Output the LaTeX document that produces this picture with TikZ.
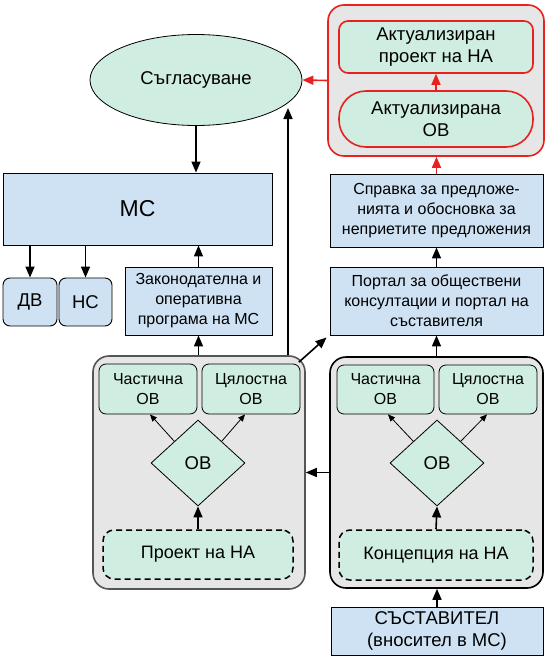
\documentclass[tikz,border=0pt]{standalone}
\usepackage{fontspec}
\setmainfont{Liberation Sans}
\usetikzlibrary{shapes.geometric,arrows.meta,calc}
\definecolor{bluebox}{HTML}{CFE2F3}
\definecolor{greenbox}{HTML}{CFEDE1}
\definecolor{graygrp}{HTML}{E6E6E6}
\definecolor{redc}{HTML}{E8211E}
\definecolor{darkg}{HTML}{555555}
\tikzset{
  x=1pt, y=-1pt,
  every node/.style={inner sep=0pt, align=center},
  blue/.style={draw=black, line width=0.9pt, fill=bluebox, font=\fontsize{16}{20}\selectfont},
  bluer/.style={blue, rounded corners=7pt, font=\fontsize{18.5}{22}\selectfont},
  grp/.style={draw=darkg, line width=1.6pt, fill=graygrp, rounded corners=16pt},
  grpb/.style={draw=black, line width=1.6pt, fill=graygrp, rounded corners=16pt},
  sub/.style={draw=black, line width=0.8pt, fill=greenbox, rounded corners=7pt, font=\fontsize{16}{20}\selectfont},
  dsh/.style={draw=black, line width=1.5pt, dash pattern=on 6pt off 4pt, fill=greenbox, rounded corners=11pt, font=\fontsize{18}{22}\selectfont},
  dia/.style={diamond, draw=black, line width=0.8pt, fill=greenbox, minimum width=94pt, minimum height=86pt, font=\fontsize{18.5}{22}\selectfont},
  arr/.style={line width=1.6pt, -{Triangle[length=11pt,width=9pt]}},
  thin arr/.style={line width=0.8pt, -{Triangle[length=7pt,width=6pt]}},
  redarr/.style={line width=1.6pt, draw=redc, -{Triangle[length=11pt,width=9pt,fill=redc]}},
}
\begin{document}
\begin{tikzpicture}
\useasboundingbox (0,0) rectangle (548,664);
% top left
\node[ellipse, draw=black, line width=0.8pt, fill=greenbox, minimum width=212pt, minimum height=91pt, font=\fontsize{18.5}{22}\selectfont] (ell) at (196,80) {Съгласуване};
\node[blue, minimum width=269pt, minimum height=72pt, font=\fontsize{23}{26}\selectfont] (MC) at (137.5,209) {МС};
\node[bluer, minimum width=54pt, minimum height=48pt] (DV) at (30,302) {ДВ};
\node[bluer, minimum width=53pt, minimum height=48pt] (NS) at (85.5,302) {НС};
\node[blue, minimum width=147pt, minimum height=68pt] (Zak) at (198.5,301) {Законодателна и\\оперативна\\програма на МС};
% left group
\node[grp, minimum width=212pt, minimum height=233pt] (LG) at (199,472.5) {};
\node[sub, minimum width=98pt, minimum height=50pt] (LCh) at (148,389) {Частична\\ОВ};
\node[sub, minimum width=98pt, minimum height=50pt] (LTs) at (251,389) {Цялостна\\ОВ};
\node[dia] (LD) at (198,463) {ОВ};
\node[dsh, minimum width=190pt, minimum height=49pt] (LP) at (198,554.5) {Проект на НА};
% right group
\node[grpb, minimum width=213pt, minimum height=231pt] (RG) at (436.5,472.5) {};
\node[sub, minimum width=97pt, minimum height=49pt] (RCh) at (385.5,389.5) {Частична\\ОВ};
\node[sub, minimum width=98pt, minimum height=49pt] (RTs) at (488,389.5) {Цялостна\\ОВ};
\node[dia] (RD) at (437,463) {ОВ};
\node[dsh, minimum width=194pt, minimum height=50pt] (RK) at (436,555) {Концепция на НА};
\node[blue, minimum width=212pt, minimum height=48pt, font=\fontsize{18.5}{22}\selectfont] (SS) at (437,631) {СЪСТАВИТЕЛ\\(вносител в МС)};
\node[blue, minimum width=213pt, minimum height=68pt] (Portal) at (436.5,301) {Портал за обществени\\консултации и портал на\\съставителя};
\node[blue, minimum width=213pt, minimum height=73pt] (Sprav) at (436.5,210.5) {Справка за предложе-\\нията и обосновка за\\неприетите предложения};
% red group
\node[draw=redc, line width=1.6pt, fill=graygrp, rounded corners=16pt, minimum width=216pt, minimum height=151pt] (RedG) at (436,80.5) {};
\node[draw=redc, line width=1.6pt, fill=greenbox, rounded corners=9pt, minimum width=194pt, minimum height=52pt, font=\fontsize{18.5}{22}\selectfont] (AP) at (436,47) {Актуализиран\\проект на НА};
\node[draw=redc, line width=1.6pt, fill=greenbox, rounded corners=27pt, minimum width=194pt, minimum height=56pt, font=\fontsize{18.5}{22}\selectfont] (AO) at (436,119) {Актуализирана\\ОВ};
% connectors
\coordinate (up) at (288,108);
\draw[arr] (ell.south) -- (ell.south |- MC.north);
\draw[arr] (DV.north |- MC.south) -- (DV.north);
\draw[arr] (NS.north |- MC.south) -- (NS.north);
\draw[arr] (Zak.north) -- (Zak.north |- MC.south);
\draw[arr] (Zak.south |- LG.north) -- (Zak.south);
\draw[thin arr] (LD.north west) -- ([xshift=2pt]LCh.south);
\draw[thin arr] (LD.north east) -- ([xshift=-6pt]LTs.south);
\draw[arr] (LP.north) -- (LD.south);
\draw[thin arr] (RD.north west) -- ([xshift=2.5pt]RCh.south);
\draw[thin arr] (RD.north east) -- ([xshift=-1pt]RTs.south);
\draw[arr] (RK.north) -- (RD.south);
\draw[arr] (SS.north) -- (SS.north |- RG.south);
\draw[arr] (RG.north -| Portal.south) -- (Portal.south);
\draw[arr] (Portal.north) -- (Portal.north |- Sprav.south);
\draw[redarr] (Sprav.north) -- (Sprav.north |- RedG.south);
\draw[redarr] (AO.north) -- (AP.south);
\draw[redarr] (RedG.west) -- (ell.east);
\draw[arr] (RG.west) -- (RG.west -| LG.east);
\draw[arr] (up |- LG.north) -- (up);
\draw[arr] ([shift={(-7,7)}]LG.north east) -- ([shift={(-3,2)}]Portal.south west);
\end{tikzpicture}
\end{document}
